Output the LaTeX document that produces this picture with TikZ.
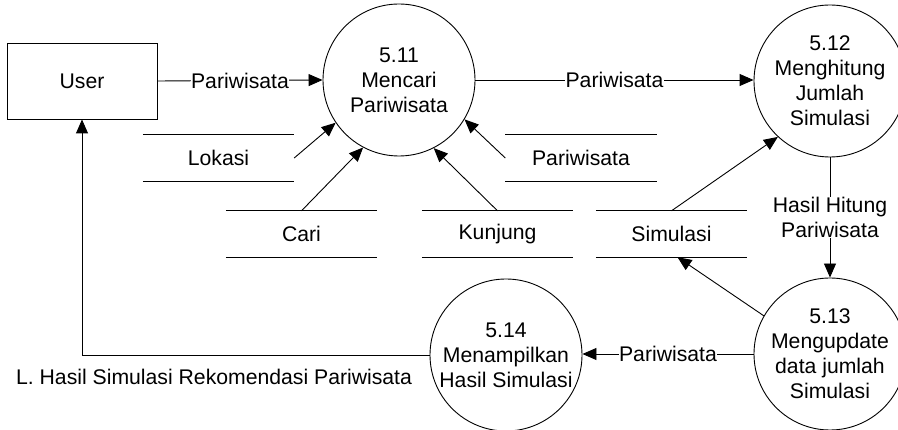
\documentclass[tikz,border=0pt]{standalone}
\usepackage{fontspec}
\setmainfont{Liberation Sans}
\usetikzlibrary{arrows.meta}
\begin{document}
\begin{tikzpicture}[x=1pt,y=-1pt,
  every node/.style={font=\fontsize{21.2}{25}\selectfont, inner sep=1pt},
  proc/.style={draw, line width=0.9pt, circle, minimum size=152pt, inner sep=0pt, align=center},
  ent/.style={draw, line width=0.9pt, minimum width=150pt, minimum height=76pt},
  store/.style={minimum width=151pt, minimum height=46pt},
  sline/.style={line width=0.9pt},
  flow/.style={line width=0.9pt, -{Triangle[length=14pt,width=12pt]}},
  lbl/.style={fill=white, inner sep=0.5pt}]
\useasboundingbox (0,0) rectangle (898,430);
% entities and processes
\node[ent] (user) at (82,81) {User};
\node[proc] (c511) at (399,80) {5.11\\Mencari\\Pariwisata};
\node[proc] (c512) at (830,81) {5.12\\Menghitung\\Jumlah\\Simulasi};
\node[proc] (c513) at (830,354) {5.13\\Mengupdate\\data jumlah\\Simulasi};
\node[proc] (c514) at (506,355) {5.14\\Menampilkan\\Hasil Simulasi};
% data stores
\node[store] (lok) at (218.5,158) {Lokasi};
\node[store] (par) at (581,158) {Pariwisata};
\node[store] (cari) at (301.5,234) {Cari};
\node[store] (kun) at (497.5,234) {Kunjung};
\node[store] (sim) at (671.5,234) {Simulasi};
\foreach \s in {lok,par,cari,kun,sim}{
  \draw[sline] (\s.north west) -- (\s.north east);
  \draw[sline] (\s.south west) -- (\s.south east);
}
% flows
\draw[flow] (user.east) -- node[lbl]{Pariwisata} (c511.west);
\draw[flow] (c511.east) -- node[lbl]{Pariwisata} (c511.east -| c512.west);
\draw[flow] (lok.east) -- (c511.214);
\draw[flow] (cari.north) -- (c511.242);
\draw[flow] (kun.north) -- (c511.297);
\draw[flow] (par.west) -- (c511.329);
\draw[flow] (sim.north) -- (c512.227);
\draw[flow] (c512.south) -- node[lbl, align=center]{Hasil Hitung\\Pariwisata} (c513.north);
\draw[flow] (c513.150) -- ([xshift=6pt]sim.south);
\draw[flow] (c513.west) -- node[lbl]{Pariwisata} (c513.west -| c514.east);
\draw[flow] (c514.west) -- node[pos=0.62, below=13pt]{L. Hasil Simulasi Rekomendasi Pariwisata} (c514.west -| user.south) -- (user.south);
\end{tikzpicture}
\end{document}
